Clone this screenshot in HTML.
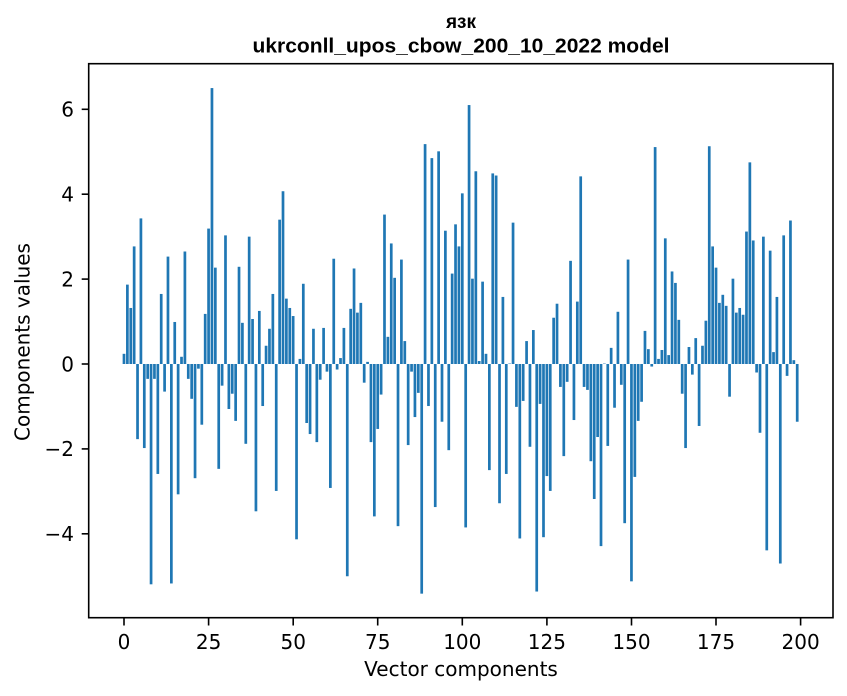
<!DOCTYPE html>
<html><head><meta charset="utf-8"><style>
html,body{margin:0;padding:0;background:#fff;}
svg{display:block;}
.t{font-family:"DejaVu Sans","Liberation Sans",sans-serif;font-size:20px;fill:#000;}
</style></head><body>
<svg width="847" height="696" viewBox="0 0 847 696" xmlns="http://www.w3.org/2000/svg">
<rect width="847" height="696" fill="#fff"/>
<g transform="translate(124,364) scale(3.383,-42.45)" fill="#1f77b4">
<rect x="-0.4" y="0" width=".8" height="0.24"/>
<rect x="0.6" y="0" width=".8" height="1.87"/>
<rect x="1.6" y="0" width=".8" height="1.32"/>
<rect x="2.6" y="0" width=".8" height="2.77"/>
<rect x="3.6" y="-1.77" width=".8" height="1.77"/>
<rect x="4.6" y="0" width=".8" height="3.43"/>
<rect x="5.6" y="-1.98" width=".8" height="1.98"/>
<rect x="6.6" y="-0.35" width=".8" height="0.35"/>
<rect x="7.6" y="-5.19" width=".8" height="5.19"/>
<rect x="8.6" y="-0.35" width=".8" height="0.35"/>
<rect x="9.6" y="-2.59" width=".8" height="2.59"/>
<rect x="10.6" y="0" width=".8" height="1.65"/>
<rect x="11.6" y="-0.65" width=".8" height="0.65"/>
<rect x="12.6" y="0" width=".8" height="2.53"/>
<rect x="13.6" y="-5.17" width=".8" height="5.17"/>
<rect x="14.6" y="0" width=".8" height="0.99"/>
<rect x="15.6" y="-3.07" width=".8" height="3.07"/>
<rect x="16.6" y="0" width=".8" height="0.17"/>
<rect x="17.6" y="0" width=".8" height="2.65"/>
<rect x="18.6" y="-0.35" width=".8" height="0.35"/>
<rect x="19.6" y="-0.82" width=".8" height="0.82"/>
<rect x="20.6" y="-2.69" width=".8" height="2.69"/>
<rect x="21.6" y="-0.11" width=".8" height="0.11"/>
<rect x="22.6" y="-1.43" width=".8" height="1.43"/>
<rect x="23.6" y="0" width=".8" height="1.18"/>
<rect x="24.6" y="0" width=".8" height="3.19"/>
<rect x="25.6" y="0" width=".8" height="6.50"/>
<rect x="26.6" y="0" width=".8" height="2.27"/>
<rect x="27.6" y="-2.47" width=".8" height="2.47"/>
<rect x="28.6" y="-0.51" width=".8" height="0.51"/>
<rect x="29.6" y="0" width=".8" height="3.03"/>
<rect x="30.6" y="-1.06" width=".8" height="1.06"/>
<rect x="31.6" y="-0.70" width=".8" height="0.70"/>
<rect x="32.6" y="-1.34" width=".8" height="1.34"/>
<rect x="33.6" y="0" width=".8" height="2.29"/>
<rect x="34.6" y="0" width=".8" height="0.97"/>
<rect x="35.6" y="-1.88" width=".8" height="1.88"/>
<rect x="36.6" y="0" width=".8" height="3.00"/>
<rect x="37.6" y="0" width=".8" height="1.06"/>
<rect x="38.6" y="-3.47" width=".8" height="3.47"/>
<rect x="39.6" y="0" width=".8" height="1.25"/>
<rect x="40.6" y="-0.99" width=".8" height="0.99"/>
<rect x="41.6" y="0" width=".8" height="0.43"/>
<rect x="42.6" y="0" width=".8" height="0.83"/>
<rect x="43.6" y="0" width=".8" height="1.65"/>
<rect x="44.6" y="-2.99" width=".8" height="2.99"/>
<rect x="45.6" y="0" width=".8" height="3.40"/>
<rect x="46.6" y="0" width=".8" height="4.07"/>
<rect x="47.6" y="0" width=".8" height="1.54"/>
<rect x="48.6" y="0" width=".8" height="1.32"/>
<rect x="49.6" y="0" width=".8" height="1.13"/>
<rect x="50.6" y="-4.13" width=".8" height="4.13"/>
<rect x="51.6" y="0" width=".8" height="0.12"/>
<rect x="52.6" y="0" width=".8" height="1.89"/>
<rect x="53.6" y="-1.39" width=".8" height="1.39"/>
<rect x="54.6" y="-1.65" width=".8" height="1.65"/>
<rect x="55.6" y="0" width=".8" height="0.83"/>
<rect x="56.6" y="-1.84" width=".8" height="1.84"/>
<rect x="57.6" y="-0.37" width=".8" height="0.37"/>
<rect x="58.6" y="0" width=".8" height="0.85"/>
<rect x="59.6" y="-0.18" width=".8" height="0.18"/>
<rect x="60.6" y="-2.92" width=".8" height="2.92"/>
<rect x="61.6" y="0" width=".8" height="2.48"/>
<rect x="62.6" y="-0.13" width=".8" height="0.13"/>
<rect x="63.6" y="0" width=".8" height="0.14"/>
<rect x="64.6" y="0" width=".8" height="0.85"/>
<rect x="65.6" y="-5.00" width=".8" height="5.00"/>
<rect x="66.6" y="0" width=".8" height="1.30"/>
<rect x="67.6" y="0" width=".8" height="2.25"/>
<rect x="68.6" y="0" width=".8" height="1.21"/>
<rect x="69.6" y="0" width=".8" height="1.44"/>
<rect x="70.6" y="-0.44" width=".8" height="0.44"/>
<rect x="71.6" y="0" width=".8" height="0.05"/>
<rect x="72.6" y="-1.84" width=".8" height="1.84"/>
<rect x="73.6" y="-3.59" width=".8" height="3.59"/>
<rect x="74.6" y="-1.53" width=".8" height="1.53"/>
<rect x="75.6" y="-0.72" width=".8" height="0.72"/>
<rect x="76.6" y="0" width=".8" height="3.52"/>
<rect x="77.6" y="0" width=".8" height="0.64"/>
<rect x="78.6" y="0" width=".8" height="2.84"/>
<rect x="79.6" y="0" width=".8" height="2.03"/>
<rect x="80.6" y="-3.82" width=".8" height="3.82"/>
<rect x="81.6" y="0" width=".8" height="2.46"/>
<rect x="82.6" y="0" width=".8" height="0.54"/>
<rect x="83.6" y="-1.91" width=".8" height="1.91"/>
<rect x="84.6" y="-0.18" width=".8" height="0.18"/>
<rect x="85.6" y="-1.25" width=".8" height="1.25"/>
<rect x="86.6" y="-0.68" width=".8" height="0.68"/>
<rect x="87.6" y="-5.41" width=".8" height="5.41"/>
<rect x="88.6" y="0" width=".8" height="5.18"/>
<rect x="89.6" y="-0.99" width=".8" height="0.99"/>
<rect x="90.6" y="0" width=".8" height="4.85"/>
<rect x="91.6" y="-3.37" width=".8" height="3.37"/>
<rect x="92.6" y="0" width=".8" height="5.01"/>
<rect x="93.6" y="-1.36" width=".8" height="1.36"/>
<rect x="94.6" y="0" width=".8" height="3.14"/>
<rect x="95.6" y="-2.03" width=".8" height="2.03"/>
<rect x="96.6" y="0" width=".8" height="2.13"/>
<rect x="97.6" y="0" width=".8" height="3.29"/>
<rect x="98.6" y="0" width=".8" height="2.77"/>
<rect x="99.6" y="0" width=".8" height="4.02"/>
<rect x="100.6" y="-3.85" width=".8" height="3.85"/>
<rect x="101.6" y="0" width=".8" height="6.10"/>
<rect x="102.6" y="0" width=".8" height="2.01"/>
<rect x="103.6" y="0" width=".8" height="4.54"/>
<rect x="104.6" y="0" width=".8" height="0.07"/>
<rect x="105.6" y="0" width=".8" height="1.94"/>
<rect x="106.6" y="0" width=".8" height="0.24"/>
<rect x="107.6" y="-2.50" width=".8" height="2.50"/>
<rect x="108.6" y="0" width=".8" height="4.49"/>
<rect x="109.6" y="0" width=".8" height="4.44"/>
<rect x="110.6" y="-3.28" width=".8" height="3.28"/>
<rect x="111.6" y="0" width=".8" height="1.58"/>
<rect x="112.6" y="-2.59" width=".8" height="2.59"/>
<rect x="113.6" y="0" width=".8" height="0.01"/>
<rect x="114.6" y="0" width=".8" height="3.33"/>
<rect x="115.6" y="-1.01" width=".8" height="1.01"/>
<rect x="116.6" y="-4.11" width=".8" height="4.11"/>
<rect x="117.6" y="-0.87" width=".8" height="0.87"/>
<rect x="118.6" y="0" width=".8" height="0.54"/>
<rect x="119.6" y="-1.95" width=".8" height="1.95"/>
<rect x="120.6" y="0" width=".8" height="0.80"/>
<rect x="121.6" y="-5.36" width=".8" height="5.36"/>
<rect x="122.6" y="-0.94" width=".8" height="0.94"/>
<rect x="123.6" y="-4.08" width=".8" height="4.08"/>
<rect x="124.6" y="-2.64" width=".8" height="2.64"/>
<rect x="125.6" y="-2.99" width=".8" height="2.99"/>
<rect x="126.6" y="0" width=".8" height="1.09"/>
<rect x="127.6" y="0" width=".8" height="1.42"/>
<rect x="128.6" y="-0.54" width=".8" height="0.54"/>
<rect x="129.6" y="-2.17" width=".8" height="2.17"/>
<rect x="130.6" y="-0.42" width=".8" height="0.42"/>
<rect x="131.6" y="0" width=".8" height="2.43"/>
<rect x="132.6" y="-1.32" width=".8" height="1.32"/>
<rect x="133.6" y="0" width=".8" height="1.47"/>
<rect x="134.6" y="0" width=".8" height="4.42"/>
<rect x="135.6" y="-0.54" width=".8" height="0.54"/>
<rect x="136.6" y="-0.61" width=".8" height="0.61"/>
<rect x="137.6" y="-2.29" width=".8" height="2.29"/>
<rect x="138.6" y="-3.18" width=".8" height="3.18"/>
<rect x="139.6" y="-1.72" width=".8" height="1.72"/>
<rect x="140.6" y="-4.29" width=".8" height="4.29"/>
<rect x="141.6" y="0" width=".8" height="0.01"/>
<rect x="142.6" y="-1.93" width=".8" height="1.93"/>
<rect x="143.6" y="0" width=".8" height="0.38"/>
<rect x="144.6" y="-1.03" width=".8" height="1.03"/>
<rect x="145.6" y="0" width=".8" height="1.23"/>
<rect x="146.6" y="-0.49" width=".8" height="0.49"/>
<rect x="147.6" y="-3.75" width=".8" height="3.75"/>
<rect x="148.6" y="0" width=".8" height="2.46"/>
<rect x="149.6" y="-5.12" width=".8" height="5.12"/>
<rect x="150.6" y="-2.66" width=".8" height="2.66"/>
<rect x="151.6" y="-1.34" width=".8" height="1.34"/>
<rect x="152.6" y="-0.89" width=".8" height="0.89"/>
<rect x="153.6" y="0" width=".8" height="0.78"/>
<rect x="154.6" y="0" width=".8" height="0.35"/>
<rect x="155.6" y="-0.06" width=".8" height="0.06"/>
<rect x="156.6" y="0" width=".8" height="5.11"/>
<rect x="157.6" y="0" width=".8" height="0.12"/>
<rect x="158.6" y="0" width=".8" height="0.33"/>
<rect x="159.6" y="0" width=".8" height="2.96"/>
<rect x="160.6" y="0" width=".8" height="0.21"/>
<rect x="161.6" y="0" width=".8" height="2.18"/>
<rect x="162.6" y="0" width=".8" height="1.91"/>
<rect x="163.6" y="0" width=".8" height="1.04"/>
<rect x="164.6" y="-0.70" width=".8" height="0.70"/>
<rect x="165.6" y="-1.98" width=".8" height="1.98"/>
<rect x="166.6" y="0" width=".8" height="0.40"/>
<rect x="167.6" y="-0.25" width=".8" height="0.25"/>
<rect x="168.6" y="0" width=".8" height="0.61"/>
<rect x="169.6" y="-1.46" width=".8" height="1.46"/>
<rect x="170.6" y="0" width=".8" height="0.43"/>
<rect x="171.6" y="0" width=".8" height="1.02"/>
<rect x="172.6" y="0" width=".8" height="5.13"/>
<rect x="173.6" y="0" width=".8" height="2.77"/>
<rect x="174.6" y="0" width=".8" height="2.27"/>
<rect x="175.6" y="0" width=".8" height="1.44"/>
<rect x="176.6" y="0" width=".8" height="1.63"/>
<rect x="177.6" y="0" width=".8" height="1.37"/>
<rect x="178.6" y="-0.77" width=".8" height="0.77"/>
<rect x="179.6" y="0" width=".8" height="2.01"/>
<rect x="180.6" y="0" width=".8" height="1.21"/>
<rect x="181.6" y="0" width=".8" height="1.32"/>
<rect x="182.6" y="0" width=".8" height="1.16"/>
<rect x="183.6" y="0" width=".8" height="3.12"/>
<rect x="184.6" y="0" width=".8" height="4.75"/>
<rect x="185.6" y="0" width=".8" height="2.91"/>
<rect x="186.6" y="-0.20" width=".8" height="0.20"/>
<rect x="187.6" y="-1.62" width=".8" height="1.62"/>
<rect x="188.6" y="0" width=".8" height="3.00"/>
<rect x="189.6" y="-4.39" width=".8" height="4.39"/>
<rect x="190.6" y="0" width=".8" height="2.67"/>
<rect x="191.6" y="0" width=".8" height="0.28"/>
<rect x="192.6" y="0" width=".8" height="1.58"/>
<rect x="193.6" y="-4.70" width=".8" height="4.70"/>
<rect x="194.6" y="0" width=".8" height="3.03"/>
<rect x="195.6" y="-0.28" width=".8" height="0.28"/>
<rect x="196.6" y="0" width=".8" height="3.38"/>
<rect x="197.6" y="0" width=".8" height="0.09"/>
<rect x="198.6" y="-1.36" width=".8" height="1.36"/>
</g>
<rect x="88.7" y="63.7" width="744.3" height="554" fill="none" stroke="#000" stroke-width="1.6"/>
<g stroke="#000" stroke-width="1.6">
<line x1="124" y1="618.5" x2="124" y2="625.5"/>
<line x1="208.6" y1="618.5" x2="208.6" y2="625.5"/>
<line x1="293.2" y1="618.5" x2="293.2" y2="625.5"/>
<line x1="377.7" y1="618.5" x2="377.7" y2="625.5"/>
<line x1="462.3" y1="618.5" x2="462.3" y2="625.5"/>
<line x1="546.9" y1="618.5" x2="546.9" y2="625.5"/>
<line x1="631.5" y1="618.5" x2="631.5" y2="625.5"/>
<line x1="716" y1="618.5" x2="716" y2="625.5"/>
<line x1="800.6" y1="618.5" x2="800.6" y2="625.5"/>
<line x1="81.7" y1="533.8" x2="88.7" y2="533.8"/>
<line x1="81.7" y1="448.9" x2="88.7" y2="448.9"/>
<line x1="81.7" y1="364" x2="88.7" y2="364"/>
<line x1="81.7" y1="279.1" x2="88.7" y2="279.1"/>
<line x1="81.7" y1="194.2" x2="88.7" y2="194.2"/>
<line x1="81.7" y1="109.3" x2="88.7" y2="109.3"/>
</g>
<g class="t" text-anchor="middle">
<text x="124" y="649">0</text>
<text x="208.6" y="649">25</text>
<text x="293.2" y="649">50</text>
<text x="377.7" y="649">75</text>
<text x="462.3" y="649">100</text>
<text x="546.9" y="649">125</text>
<text x="631.5" y="649">150</text>
<text x="716" y="649">175</text>
<text x="800.6" y="649">200</text>
</g>
<g class="t" text-anchor="end">
<text x="74" y="541.1">−4</text>
<text x="74" y="456.2">−2</text>
<text x="74" y="371.3">0</text>
<text x="74" y="286.4">2</text>
<text x="74" y="201.5">4</text>
<text x="74" y="116.6">6</text>
</g>
<text class="t" x="461" y="676" text-anchor="middle">Vector components</text>
<text class="t" x="0" y="0" text-anchor="middle" transform="translate(29.5,342) rotate(-90)">Components values</text>
<text x="461" y="28" text-anchor="middle" style="font-family:'Liberation Sans','DejaVu Sans',sans-serif;font-weight:bold;font-size:19px;fill:#000">язк</text>
<text x="461" y="52.5" text-anchor="middle" textLength="417" lengthAdjust="spacingAndGlyphs" style="font-family:'Liberation Sans','DejaVu Sans',sans-serif;font-weight:bold;font-size:20px;fill:#000">ukrconll_upos_cbow_200_10_2022 model</text>
</svg>
</body></html>
